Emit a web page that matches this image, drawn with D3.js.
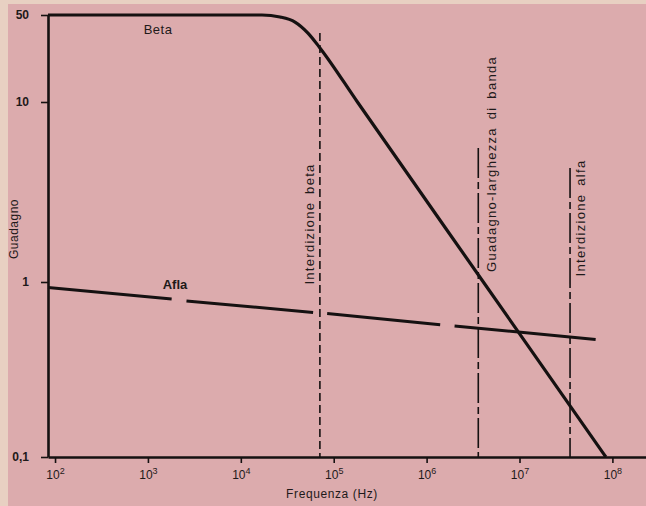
<!DOCTYPE html>
<html>
<head>
<meta charset="utf-8">
<script src="https://cdn.jsdelivr.net/npm/d3@7"></script>
<style>
  body { margin: 0; background: #e8d0c2; }
  svg { display: block; }
  text { font-family: "Liberation Sans", Arial, sans-serif; fill: #1e1a1a; }
  .axis path, .axis line { stroke: #151111; }
</style>
</head>
<body>
<div id="chart"></div>
<script>
// ticks
let freqTicks = [1e2, 1e3, 1e4, 1e5, 1e6, 1e7, 1e8];
let freqExp = ["2", "3", "4", "5", "6", "7", "8"];
let gainTicks = [0.1, 1, 10, 50];
let gainLabels = ["0,1", "1", "10", "50"];

// beta curve (Hz, gain)
let betaFreq = [84, 1.69e4, 2.64e4, 3.83e4, 5.28e4, 7.11e4, 1.8e5, 4.08e6, 8.51e7];
let betaGain = [50, 50, 48.2, 43.9, 35.8, 27.2, 10, 1, 0.1];

// alfa line, broken in places (null = gap)
let alfaFreq = [84, 1.8e3, null, 2.6e3, 6e4, null, 8.5e4, 1.4e6, null, 2e6, 6.6e7];
let alfaGain = [0.93, 0.80, null, 0.78, 0.67, null, 0.66, 0.57, null, 0.56, 0.47];

// vertical markers
let markerFreq = [7.1e4, 3.6e6, 3.5e7];
let markerTop = [35.8, 5.55, 4.3];
let markerNames = ["Interdizione beta", "Guadagno-larghezza di banda", "Interdizione alfa"];

let width = 646, height = 506;

let svg = d3.select("#chart").append("svg")
  .attr("width", width).attr("height", height);

// pink paper
svg.append("rect").attr("x", 8).attr("y", 4)
  .attr("width", width - 8).attr("height", height - 4)
  .attr("fill", "#dcabad");

let x = d3.scaleLog().domain([84, 2.3e8]).range([48, 646]);
let y = d3.scaleLog().domain([0.1, 1, 10, 50]).range([457, 282, 102, 15]);

// axes
let xAxis = d3.axisBottom(x).tickValues(freqTicks).tickSize(6).tickSizeOuter(0).tickFormat(() => "");
let gx = svg.append("g").attr("class", "axis")
  .attr("transform", "translate(0," + y(0.1) + ")")
  .call(xAxis);
gx.select(".domain").attr("stroke-width", 2.6);
gx.selectAll(".tick line").attr("stroke-width", 1.6);
gx.selectAll(".tick").append("text")
  .attr("y", 22).attr("text-anchor", "middle")
  .style("font-size", "12px")
  .each(function(d, i) {
    let t = d3.select(this);
    t.append("tspan").text("10");
    t.append("tspan").attr("dy", -5).style("font-size", "9px").text(freqExp[i]);
  });

let yAxis = d3.axisLeft(y).tickValues(gainTicks).tickSize(7).tickSizeOuter(0)
  .tickFormat((d, i) => gainLabels[i]);
let gy = svg.append("g").attr("class", "axis")
  .attr("transform", "translate(" + x(84) + ",0)")
  .call(yAxis);
gy.select(".domain").attr("stroke-width", 2.6);
gy.selectAll(".tick line").attr("stroke-width", 1.6);
gy.selectAll(".tick text").attr("x", -19)
  .style("font-size", "12px").style("font-weight", "bold");

// vertical markers
let dashes = ["8,4", "30,4,7,4", "30,4,7,4"];
markerFreq.forEach(function(f, i) {
  svg.append("line")
    .attr("x1", x(f)).attr("x2", x(f))
    .attr("y1", y(markerTop[i])).attr("y2", y(0.1))
    .attr("stroke", "#151111").attr("stroke-width", 1.6)
    .attr("stroke-dasharray", dashes[i]);
});

let labelX = [x(markerFreq[0]) - 6, x(markerFreq[1]) + 18, x(markerFreq[2]) + 15];
let labelY = [224, 164, 218];
let spacing = [1.3, 1.3, 1.3];
markerNames.forEach(function(n, i) {
  svg.append("text")
    .attr("transform", "translate(" + labelX[i] + "," + labelY[i] + ") rotate(-90)")
    .attr("text-anchor", "middle")
    .style("font-size", "13px")
    .style("letter-spacing", spacing[i] + "px")
    .style("word-spacing", "3px")
    .text(n);
});

// curves
let beta = betaFreq.map((f, i) => [f, betaGain[i]]);
let alfa = alfaFreq.map((f, i) => [f, alfaGain[i]]);

let line = d3.line()
  .defined(d => d[0] !== null)
  .x(d => x(d[0]))
  .y(d => y(d[1]));

svg.append("path").datum(beta)
  .attr("d", line.curve(d3.curveMonotoneX))
  .attr("fill", "none").attr("stroke", "#151111").attr("stroke-width", 3.2);

svg.append("path").datum(alfa)
  .attr("d", line.curve(d3.curveLinear))
  .attr("fill", "none").attr("stroke", "#151111").attr("stroke-width", 3);

svg.append("text").attr("x", 158).attr("y", 34).attr("text-anchor", "middle")
  .style("font-size", "13px").style("letter-spacing", "0.5px").text("Beta");
svg.append("text").attr("x", 175).attr("y", 289).attr("text-anchor", "middle")
  .style("font-size", "13px").style("font-weight", "bold").text("Afla");

// axis titles
svg.append("text").text("Frequenza (Hz)")
  .attr("x", 332).attr("y", 498).attr("text-anchor", "middle")
  .style("font-size", "12px").style("letter-spacing", "0.6px");
svg.append("text").text("Guadagno")
  .attr("transform", "translate(18,229) rotate(-90)")
  .attr("text-anchor", "middle")
  .style("font-size", "12px").style("letter-spacing", "0.5px");
</script>
</body>
</html>
